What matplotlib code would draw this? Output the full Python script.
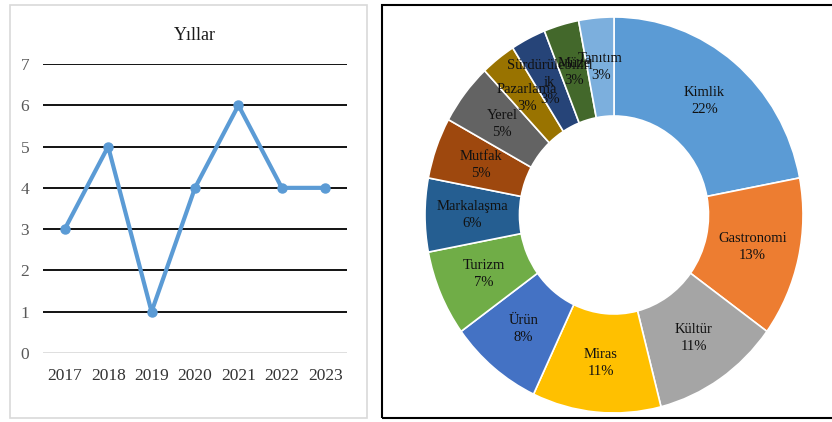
import matplotlib
matplotlib.use("Agg")
import matplotlib.pyplot as plt
from matplotlib.patches import Rectangle
import numpy as np

# ---- data ----
years = ["2017", "2018", "2019", "2020", "2021", "2022", "2023"]
counts = [3, 5, 1, 4, 6, 4, 4]

categories = ["Kimlik", "Gastronomi", "Kültür", "Miras", "Ürün", "Turizm",
              "Markalaşma", "Mutfak", "Yerel", "Pazarlama", "Sürdürülebilirlik",
              "Müze", "Tanıtım"]
label_text = ["Kimlik", "Gastronomi", "Kültür", "Miras", "Ürün", "Turizm",
              "Markalaşma", "Mutfak", "Yerel", "Pazarlama", "Sürdürülebilirl\nik",
              "Müze", "Tanıtım"]
shares = [22, 13, 11, 11, 8, 7, 6, 5, 5, 3, 3, 3, 3]
colors = ["#5B9BD5", "#ED7D31", "#A5A5A5", "#FFC000", "#4472C4", "#70AD47",
          "#255E91", "#9E480E", "#636363", "#997300", "#264478", "#43682B",
          "#7CAFDD"]

plt.rcParams['font.family'] = ['Liberation Serif', 'DejaVu Serif']

W, H = 832, 422
fig = plt.figure(figsize=(W / 100, H / 100), dpi=100)

def fx(px):
    return px / W

def fy(py):
    return 1 - py / H

# panel borders
fig.patches.append(Rectangle((fx(10), fy(418)), fx(367) - fx(10), fy(5) - fy(418),
                             transform=fig.transFigure, fill=False,
                             edgecolor="#D9D9D9", linewidth=1.2))
fig.patches.append(Rectangle((fx(382), fy(418)), fx(835) - fx(382), fy(5) - fy(418),
                             transform=fig.transFigure, fill=False,
                             edgecolor="black", linewidth=1.5))

# ---- line chart ----
ax = fig.add_axes([fx(43), fy(353), fx(347) - fx(43), fy(64) - fy(353)])
x = list(range(len(years)))
ax.set_xlim(-0.5, len(years) - 0.5)
ax.set_ylim(0, 7)
for v in range(1, 8):
    ax.axhline(v, color="black", linewidth=1.3, zorder=1)
ax.axhline(0, color="#D9D9D9", linewidth=1.2, zorder=1)
ax.plot(x, counts, color="#5B9BD5", linewidth=3, marker="o",
        markersize=6.5, zorder=3)
ax.set_xticks(x)
ax.set_xticklabels(years, fontsize=12.5, color="#333333")
ax.set_yticks(range(0, 8))
ax.set_yticklabels([str(v) for v in range(0, 8)], fontsize=12.5, color="#595959")
ax.tick_params(length=0, pad=11, axis="x")
ax.tick_params(length=0, pad=10, axis="y")
for s in ax.spines.values():
    s.set_visible(False)
ax.set_title("Yıllar", fontsize=13, color="#1a1a1a", pad=17)

# ---- donut chart ----
ax2 = fig.add_axes([fx(425), fy(413), fx(803) - fx(425), fy(17) - fy(413)])
wedges, _ = ax2.pie(shares, colors=colors, startangle=90, counterclock=False,
                    radius=1.0, wedgeprops=dict(width=0.5, edgecolor="white",
                                                linewidth=1.2))
ax2.set_aspect("auto")
ax2.set_xlim(-1, 1)
ax2.set_ylim(-1, 1)
total = sum(shares)
cum = 0
for lab, s in zip(label_text, shares):
    mid = 90 - (cum + s / 2) / total * 360
    cum += s
    r = 0.75
    xx = r * np.cos(np.radians(mid))
    yy = r * np.sin(np.radians(mid))
    ax2.text(xx, yy, f"{lab}\n{s}%", ha="center", va="center", fontsize=10.5,
             color="#111111", linespacing=1.4)

fig.savefig("out.png", dpi=100)
